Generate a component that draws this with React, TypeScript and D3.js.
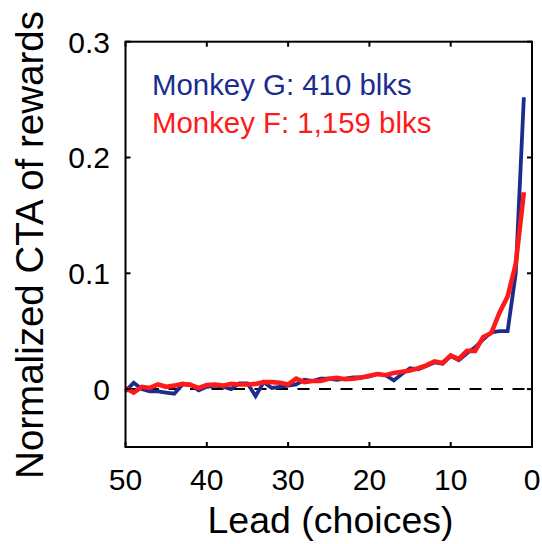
import React from "react";
import * as d3 from "d3";

const leads: number[] = [50,49,48,47,46,45,44,43,42,41,40,39,38,37,36,35,34,33,32,31,30,29,28,27,26,25,24,23,22,21,20,19,18,17,16,15,14,13,12,11,10,9,8,7,6,5,4,3,2,1];

const monkeyG: number[] = [
  -0.002, 0.0055, 0.0, -0.002, -0.002, -0.003, -0.004, 0.004, 0.004, -0.001,
  0.002, 0.003, 0.002, 0.0, 0.005, 0.005, -0.006, 0.006, 0.001, 0.002,
  0.003, 0.004, 0.008, 0.007, 0.009, 0.009, 0.008, 0.009, 0.01, 0.01,
  0.011, 0.013, 0.012, 0.0075, 0.013, 0.018, 0.017, 0.02, 0.023, 0.022,
  0.0285, 0.025, 0.031, 0.036, 0.043, 0.049, 0.05, 0.05, 0.1, 0.252,
];

const monkeyF: number[] = [
  0.001, -0.003, 0.002, 0.001, 0.004, 0.002, 0.003, 0.0045, 0.0035, 0.001,
  0.0035, 0.004, 0.003, 0.0045, 0.004, 0.004, 0.0045, 0.006, 0.006, 0.0055,
  0.004, 0.009, 0.006, 0.007, 0.007, 0.009, 0.0098, 0.0085, 0.009, 0.01,
  0.0115, 0.013, 0.012, 0.014, 0.015, 0.016, 0.018, 0.0205, 0.024, 0.0225,
  0.029, 0.026, 0.033, 0.033, 0.045, 0.0485, 0.066, 0.08, 0.108, 0.17,
];

const xTicks: number[] = [50, 40, 30, 20, 10, 0];
const yTicks: number[] = [0, 0.1, 0.2, 0.3];
const yTickLabels: string[] = ["0", "0.1", "0.2", "0.3"];
const legendLabels: string[] = ["Monkey G: 410 blks", "Monkey F: 1,159 blks"];

const BLUE = "#1a2d8e";
const RED = "#ff1a1a";
const FONT = "'Liberation Sans', Arial, Helvetica, sans-serif";

export default function App() {
  const W = 542, H = 544;
  const left = 125.5, right = 532, top = 41.7, bottom = 447;
  const x = d3.scaleLinear().domain([50, 0]).range([left, right]);
  const y = d3.scaleLinear().domain([-0.05, 0.3]).range([bottom, top]);

  const line = d3
    .line<number>()
    .x((_, i) => x(leads[i]))
    .y((d) => y(d));

  const tickLen = 5;

  return (
    <svg
      width={W}
      height={H}
      viewBox={`0 0 ${W} ${H}`}
      style={{ position: "absolute", left: 0, top: 0, background: "#fff" }}
    >
      <rect x={0} y={0} width={W} height={H} fill="#fff" />
      <line
        x1={left}
        x2={right}
        y1={y(0)}
        y2={y(0)}
        stroke="#000"
        strokeWidth={2}
        strokeDasharray="12,9.5"
      />
      <path d={line(monkeyG) || ""} fill="none" stroke={BLUE} strokeWidth={3.8} strokeLinejoin="miter" />
      <path d={line(monkeyF) || ""} fill="none" stroke={RED} strokeWidth={4.6} strokeLinejoin="miter" />
      <rect x={left} y={top} width={right - left} height={bottom - top} fill="none" stroke="#000" strokeWidth={2} />
      {xTicks.map((t) => (
        <g key={"xt" + t}>
          <line x1={x(t)} x2={x(t)} y1={bottom} y2={bottom - tickLen} stroke="#000" strokeWidth={2} />
          <line x1={x(t)} x2={x(t)} y1={top} y2={top + tickLen} stroke="#000" strokeWidth={2} />
          <text x={x(t)} y={490} textAnchor="middle" fontFamily={FONT} fontSize={30} fill="#000">
            {t}
          </text>
        </g>
      ))}
      {yTicks.map((t, i) => (
        <g key={"yt" + t}>
          <line x1={left} x2={left + tickLen} y1={y(t)} y2={y(t)} stroke="#000" strokeWidth={2} />
          <line x1={right} x2={right - tickLen} y1={y(t)} y2={y(t)} stroke="#000" strokeWidth={2} />
          <text x={110} y={y(t)} dy="0.36em" textAnchor="end" fontFamily={FONT} fontSize={30} fill="#000">
            {yTickLabels[i]}
          </text>
        </g>
      ))}
      <text x={330.5} y={533} textAnchor="middle" fontFamily={FONT} fontSize={37.5} fill="#000">
        Lead (choices)
      </text>
      <text
        transform={`translate(43,${245}) rotate(-90)`}
        textAnchor="middle"
        fontFamily={FONT}
        fontSize={38.5}
        fill="#000"
      >
        Normalized CTA of rewards
      </text>
      <text x={152} y={95} fontFamily={FONT} fontSize={29.4} fill={BLUE}>
        {legendLabels[0]}
      </text>
      <text x={152} y={133.3} fontFamily={FONT} fontSize={29.4} fill={RED}>
        {legendLabels[1]}
      </text>
    </svg>
  );
}
